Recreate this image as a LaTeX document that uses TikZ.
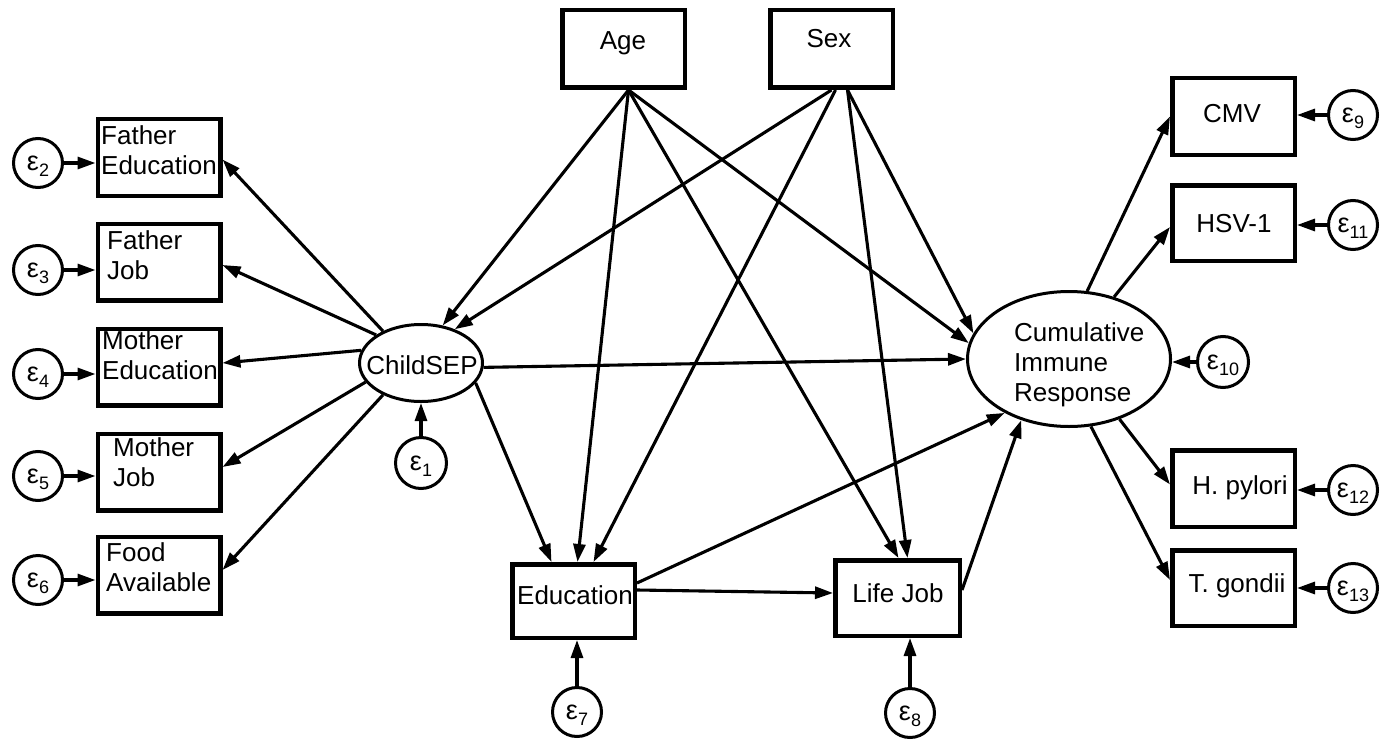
\documentclass[tikz,border=0pt]{standalone}
\usepackage{fontspec}
\setmainfont{Liberation Sans}
\usetikzlibrary{arrows.meta,shapes.geometric}
\newcommand\dfont{\fontsize{26}{30}\selectfont}
\newcommand\epsn[1]{\fontsize{27}{27}\selectfont ε\raisebox{-6.5pt}{\fontsize{18}{18}\selectfont #1}}
\tikzset{
  boxn/.style={draw, line width=4.5pt, inner sep=0pt, minimum width=122.5pt, minimum height=76.5pt},
  txt/.style={inner sep=0pt, font=\dfont},
  mtxt/.style={inner sep=0pt, font=\dfont, anchor=north west, align=left},
  errc/.style={draw, circle, line width=3pt, inner sep=0pt, minimum size=49pt, text height=14pt, text depth=0pt},
  latent/.style={draw, ellipse, line width=3pt, inner sep=0pt},
  conn/.style={line width=3.1pt, -{Triangle[length=18pt,width=12pt]}}
}
\begin{document}
\begin{tikzpicture}[x=1pt, y=-1pt]
\useasboundingbox (0,0) rectangle (1380,741);

% left indicator boxes
\node[boxn] (fe) at (159,157.5) {};
\node[mtxt] (fet) at (101,125) {Father\\Education};
\node[boxn] (fj) at (159,262) {};
\node[mtxt] (fjt) at (107,230) {Father\\Job};
\node[boxn] (me) at (159,367) {};
\node[mtxt] (met) at (102,330) {Mother\\Education};
\node[boxn] (mj) at (159,472) {};
\node[mtxt] (mjt) at (113,437) {Mother\\Job};
\node[boxn] (fa) at (159,575) {};
\node[mtxt] (fat) at (106,542) {Food\\Available};

% left errors
\node[errc] (e2) at (38,163) {\epsn{2}};
\node[errc] (e3) at (38,270) {\epsn{3}};
\node[errc] (e4) at (38,374) {\epsn{4}};
\node[errc] (e5) at (38,476) {\epsn{5}};
\node[errc] (e6) at (38,580) {\epsn{6}};

% top boxes
\node[boxn, minimum height=77.5pt] (age) at (623.5,49) {};
\node[txt, anchor=base] (aget) at (623,50) {Age};
\node[boxn, minimum height=77.5pt] (sex) at (831.5,49) {};
\node[txt, anchor=base] (sext) at (829,48) {Sex};

% ChildSEP
\node[latent, minimum width=123pt, minimum height=77pt] (childsep) at (421,363) {};
\node[txt, anchor=base] (childsept) at (422,374) {ChildSEP};
\node[errc, minimum size=51pt] (e1) at (421,463) {\epsn{1}};

% Education / Life Job
\node[boxn, minimum height=73.5pt] (edu) at (573.5,601) {};
\node[txt, anchor=base] (edut) at (575,604) {Education};
\node[boxn, minimum width=124.5pt, minimum height=75.5pt] (lj) at (897.5,598) {};
\node[txt, anchor=base] (ljt) at (898,602) {Life Job};
\node[errc] (e7) at (577,712) {\epsn{7}};
\node[errc] (e8) at (910,713) {\epsn{8}};

% Cumulative Immune Response
\node[latent, minimum width=203pt, minimum height=135pt] (cir) at (1069,359) {};
\node[mtxt] (cirt) at (1014,322) {Cumulative\\Immune\\Response};
\node[errc, minimum size=51pt] (e10) at (1223,362) {\epsn{10}};

% right boxes
\node[boxn] (cmv) at (1233.5,116.5) {};
\node[txt, anchor=base] (cmvt) at (1232,123) {CMV};
\node[boxn, minimum height=75.5pt] (hsv) at (1233.5,223) {};
\node[txt, anchor=base] (hsvt) at (1234,232) {HSV-1};
\node[boxn] (hp) at (1233.5,488.5) {};
\node[txt, anchor=base] (hpt) at (1240,494) {H. pylori};
\node[boxn, minimum height=75.5pt] (tg) at (1233.5,588) {};
\node[txt, anchor=base] (tgt) at (1237,592) {T. gondii};

\node[errc] (e9) at (1353,115) {\epsn{9}};
\node[errc] (e11) at (1353,225) {\epsn{11}};
\node[errc] (e12) at (1353,490) {\epsn{12}};
\node[errc] (e13) at (1353,588) {\epsn{13}};

% Age paths
\draw[conn] ([xshift=5pt]age.south) -- (childsep.60);
\draw[conn] ([xshift=5pt]age.south) -- ([xshift=4pt]edu.north);
\draw[conn] ([xshift=5pt]age.south) -- ([xshift=1pt]lj.north);
\draw[conn] ([xshift=5pt]age.south) -- (cir.171);
% Sex paths
\draw[conn] (sex.south) -- (childsep.45);
\draw[conn] ([xshift=4pt]sex.south) -- ([xshift=20pt]edu.north);
\draw[conn] ([xshift=16pt]sex.south) -- ([xshift=10pt]lj.north);
\draw[conn] ([xshift=16pt]sex.south) -- (cir.165);

% ChildSEP paths
\draw[conn] (childsep.140) -- ([yshift=-2pt]fe.east);
\draw[conn] (childsep.148) -- ([yshift=-3pt]fj.east);
\draw[conn] (childsep.168) -- ([yshift=4pt]me.east);
\draw[conn] (childsep.199) -- ([yshift=5pt]mj.east);
\draw[conn] (childsep.220) -- ([yshift=5pt]fa.east);
\draw[conn] (childsep.-4) -- (cir.180);
\draw[conn] (childsep.-20) -- ([xshift=-22pt]edu.north);

% Education / Life Job paths
\draw[conn] ([yshift=11pt]edu.east) -- ([yshift=5pt]lj.west);
\draw[conn] ([yshift=18pt]edu.east) -- (cir.-140);
\draw[conn] ([yshift=8pt]lj.east) -- (cir.-128);

% Cumulative to indicators
\draw[conn] (cir.75) -- (cmv.west);
\draw[conn] (cir.54) -- ([yshift=-4pt]hsv.west);
\draw[conn] (cir.-50) -- ([yshift=4pt]hp.west);
\draw[conn] (cir.-72) -- ([yshift=8pt]tg.west);

% error arrows
\draw[conn] (e2.east) -- (e2.east -| fe.west);
\draw[conn] (e3.east) -- (e3.east -| fj.west);
\draw[conn] (e4.east) -- (e4.east -| me.west);
\draw[conn] (e5.east) -- (e5.east -| mj.west);
\draw[conn] (e6.east) -- (e6.east -| fa.west);
\draw[conn] (e1.north) -- (childsep.south);
\draw[conn] (e7.north) -- (e7.north |- edu.south);
\draw[conn] (e8.north) -- (e8.north |- lj.south);
\draw[conn] (e10.west) -- (e10.west -| cir.east);
\draw[conn] (e9.west) -- (e9.west -| cmv.east);
\draw[conn] (e11.west) -- (e11.west -| hsv.east);
\draw[conn] (e12.west) -- (e12.west -| hp.east);
\draw[conn] (e13.west) -- (e13.west -| tg.east);
\end{tikzpicture}
\end{document}
